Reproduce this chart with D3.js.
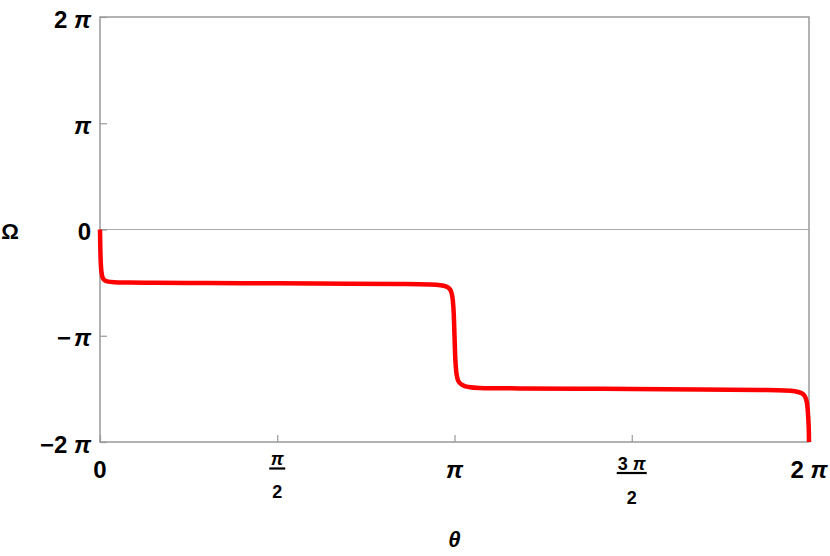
<!DOCTYPE html>
<html>
<head>
<meta charset="utf-8">
<script src="https://cdn.jsdelivr.net/npm/d3@7"></script>
<style>
  body { margin: 0; background: #fff; }
  text { font-family: "Liberation Sans", Arial, sans-serif; font-weight: bold; fill: #000; }
</style>
</head>
<body>
<div class="chart"></div>
<script>
// curve values, both in units of pi
var thetaPi = [0, 0.0005, 0.001, 0.002, 0.003, 0.005, 0.008, 0.012, 0.02, 0.04, 0.08, 0.155,
  0.3, 0.5, 0.7, 0.846, 0.93, 0.96, 0.975, 0.985, 0.991, 0.995, 0.998, 1.0, 1.002, 1.005,
  1.009, 1.015, 1.025, 1.04, 1.07, 1.185, 1.35, 1.5, 1.692, 1.862, 1.932, 1.96, 1.975,
  1.986, 1.992, 1.996, 1.998, 1.9995, 2];
var omegaPi = [0, -0.1, -0.19, -0.3, -0.36, -0.42, -0.455, -0.475, -0.488, -0.496, -0.499, -0.502,
  -0.504, -0.507, -0.51, -0.513, -0.518, -0.524, -0.535, -0.555, -0.59, -0.66, -0.8, -1.0, -1.2, -1.34,
  -1.41, -1.445, -1.468, -1.482, -1.491, -1.496, -1.499, -1.501, -1.505, -1.51, -1.515, -1.523, -1.535,
  -1.558, -1.6, -1.68, -1.78, -1.9, -2];

var xTicks = [0, 0.5, 1, 1.5, 2];
var yTicks = [-2, -1, 0, 1, 2];
var yTickLabels = [["−2 ", "π"], ["−", "π"], ["0", ""], ["", "π"], ["2 ", "π"]];

var svgWidth = 830, svgHeight = 556;
var margin = {top: 17, right: 21, bottom: 114, left: 100};
var width = svgWidth - margin.left - margin.right;
var height = svgHeight - margin.top - margin.bottom;

var svg = d3.select(".chart").append("svg")
  .attr("width", svgWidth)
  .attr("height", svgHeight);

var chartGroup = svg.append("g")
  .attr("transform", `translate(${margin.left}, ${margin.top})`);

var xScale = d3.scaleLinear().domain([0, 2]).range([0, width]);
var yScale = d3.scaleLinear().domain([-2, 2]).range([height, 0]);

// zero line
chartGroup.append("line")
  .attr("x1", 0).attr("x2", width)
  .attr("y1", yScale(0)).attr("y2", yScale(0))
  .attr("stroke", "#aaa").attr("stroke-width", 1);

// ticks (inward), labels drawn by hand
var bottomAxis = d3.axisBottom(xScale).tickValues(xTicks).tickSizeInner(-7).tickSizeOuter(0).tickFormat("");
var leftAxis = d3.axisLeft(yScale).tickValues(yTicks).tickSizeInner(-7).tickSizeOuter(0).tickFormat("");

var xAxis = chartGroup.append("g").attr("transform", `translate(0, ${height})`).call(bottomAxis);
var yAxis = chartGroup.append("g").call(leftAxis);
[xAxis, yAxis].forEach(function(a) {
  a.select(".domain").remove();
  a.selectAll(".tick line").attr("stroke", "#999").attr("stroke-width", 1.2);
});

// frame
chartGroup.append("rect")
  .attr("x", 0).attr("y", 0).attr("width", width).attr("height", height)
  .attr("fill", "none").attr("stroke", "#999").attr("stroke-width", 1.5);

// curve
var line = d3.line()
  .x(function(d, i) { return xScale(thetaPi[i]); })
  .y(function(d, i) { return yScale(omegaPi[i]); })
  .curve(d3.curveMonotoneX);

chartGroup.append("path")
  .datum(thetaPi)
  .attr("d", line)
  .attr("fill", "none")
  .attr("stroke", "#ff0000")
  .attr("stroke-width", 4.5)
  .attr("stroke-linejoin", "round");

// y tick labels
yTicks.forEach(function(v, i) {
  var t = chartGroup.append("text")
    .attr("x", -9)
    .attr("y", yScale(v) + 10.5)
    .attr("text-anchor", "end")
    .attr("font-size", "24px");
  t.append("tspan").text(yTickLabels[i][0]);
  if (yTickLabels[i][1]) {
    t.append("tspan").attr("font-style", "italic").attr("dx", yTickLabels[i][0] === "−" ? 3 : 0).text(yTickLabels[i][1]);
  }
});

// x tick labels
var xl = chartGroup.append("g").attr("transform", `translate(0, ${height})`);
xl.append("text").attr("x", xScale(0)).attr("y", 36).attr("text-anchor", "middle")
  .attr("font-size", "24px").text("0");
xl.append("text").attr("x", xScale(1)).attr("y", 36).attr("text-anchor", "middle")
  .attr("font-size", "24px").attr("font-style", "italic").text("π");
var t2 = xl.append("text").attr("x", xScale(2)).attr("y", 36).attr("text-anchor", "middle")
  .attr("font-size", "24px");
t2.append("tspan").text("2 ");
t2.append("tspan").attr("font-style", "italic").text("π");

// fractions
function fraction(v, num, numY, barY, denY, barW) {
  var cx = xScale(v);
  var n = xl.append("text").attr("x", cx).attr("y", numY).attr("text-anchor", "middle").attr("font-size", "18px");
  if (num) n.append("tspan").text(num);
  n.append("tspan").attr("font-style", "italic").text("π");
  xl.append("line").attr("x1", cx - barW / 2).attr("x2", cx + barW / 2)
    .attr("y1", barY).attr("y2", barY).attr("stroke", "#000").attr("stroke-width", 2.2);
  xl.append("text").attr("x", cx).attr("y", denY).attr("text-anchor", "middle")
    .attr("font-size", "18px").text("2");
}
fraction(0.5, "", 23, 26.5, 56, 16);
fraction(1.5, "3 ", 28, 31, 62, 30);

// axis titles
svg.append("text")
  .attr("x", margin.left + xScale(1))
  .attr("y", 547)
  .attr("text-anchor", "middle")
  .attr("font-size", "22px")
  .attr("font-style", "italic")
  .text("θ");

svg.append("text")
  .attr("x", 10)
  .attr("y", 239)
  .attr("text-anchor", "middle")
  .attr("font-size", "22px")
  .text("Ω");
</script>
</body>
</html>
